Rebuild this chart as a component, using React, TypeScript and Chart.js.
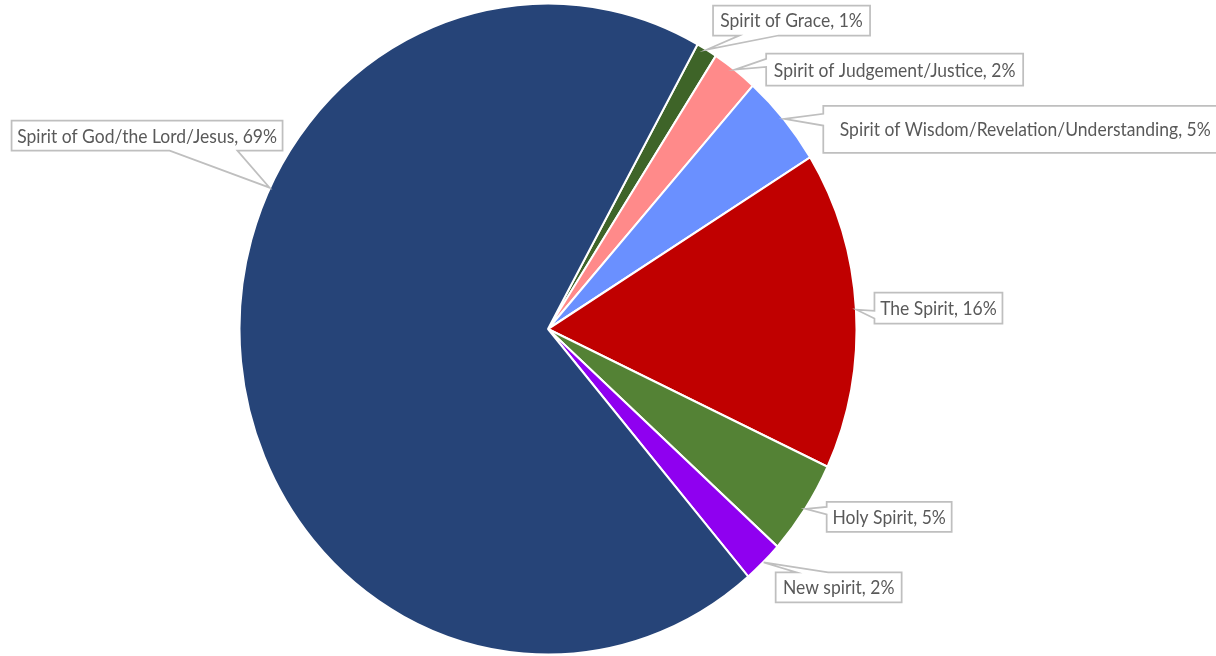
import React, { useEffect, useRef } from "react";
import { Chart, registerables } from "chart.js";

Chart.register(...registerables);

const categories = [
  "Spirit of Grace",
  "Spirit of Judgement/Justice",
  "Spirit of Wisdom/Revelation/Understanding",
  "The Spirit",
  "Holy Spirit",
  "New spirit",
  "Spirit of God/the Lord/Jesus",
];
const shares = [1.1, 2.4, 4.6, 15.8, 4.7, 2.1, 69.3];
const sliceColors = ["#3E6428", "#FF8A8A", "#6A90FF", "#C00000", "#548235", "#8F00F0", "#264478"];

// callout layout: box offset from the tip (dx, dy), box size, optional tip angle (deg clockwise from top)
const calloutLayout = [
  { dx: 6, dy: -44, w: 157, h: 30 },
  { dx: 31, dy: -16, w: 257, h: 32 },
  { dx: 39, dy: -13, w: 404, h: 47 },
  { dx: 18, dy: -17, w: 128, h: 31 },
  { dx: 21, dy: -7, w: 125, h: 30 },
  { dx: 12, dy: 10, w: 126, h: 30 },
  { dx: -258, dy: -67, w: 271, h: 30, angle: 295.7 },
];

const SCALE_Y = 1.055;

const ellipsePlugin = {
  id: "ellipseStretch",
  beforeDatasetsDraw(chart: any) {
    const arc = chart.getDatasetMeta(0).data[0];
    if (!arc) return;
    const ctx = chart.ctx;
    ctx.save();
    ctx.translate(arc.x, arc.y);
    ctx.scale(1, SCALE_Y);
    ctx.translate(-arc.x, -arc.y);
  },
  afterDatasetsDraw(chart: any) {
    chart.ctx.restore();
  },
};

const calloutPlugin = {
  id: "callouts",
  afterDraw(chart: any) {
    const meta = chart.getDatasetMeta(0);
    const ctx: CanvasRenderingContext2D = chart.ctx;
    const data = chart.data.datasets[0].data as number[];
    const total = data.reduce((a, b) => a + b, 0);
    meta.data.forEach((arc: any, i: number) => {
      const p = arc.getProps(["x", "y", "startAngle", "endAngle", "outerRadius"], true);
      const L = calloutLayout[i];
      const a =
        L.angle !== undefined ? ((L.angle - 90) * Math.PI) / 180 : (p.startAngle + p.endAngle) / 2;
      const r = p.outerRadius + 0.5;
      const tx = p.x + r * Math.cos(a);
      const ty = p.y + r * SCALE_Y * Math.sin(a);
      const bx = tx + L.dx;
      const by = ty + L.dy;
      const w = L.w;
      const h = L.h;
      const cx = bx + w / 2;
      const cy = by + h / 2;
      const ndx = (tx - cx) / w;
      const ndy = (ty - cy) / h;
      ctx.save();
      ctx.beginPath();
      ctx.moveTo(bx, by);
      if (Math.abs(ndy) >= Math.abs(ndx) && ndy < 0) {
        const f1 = ndx > 0 ? 7 / 12 : 2 / 12;
        const f2 = ndx > 0 ? 10 / 12 : 5 / 12;
        ctx.lineTo(bx + w * f1, by);
        ctx.lineTo(tx, ty);
        ctx.lineTo(bx + w * f2, by);
      }
      ctx.lineTo(bx + w, by);
      if (Math.abs(ndx) > Math.abs(ndy) && ndx > 0) {
        const f1 = ndy > 0 ? 7 / 12 : 2 / 12;
        const f2 = ndy > 0 ? 10 / 12 : 5 / 12;
        ctx.lineTo(bx + w, by + h * f1);
        ctx.lineTo(tx, ty);
        ctx.lineTo(bx + w, by + h * f2);
      }
      ctx.lineTo(bx + w, by + h);
      if (Math.abs(ndy) >= Math.abs(ndx) && ndy > 0) {
        const f1 = ndx > 0 ? 10 / 12 : 5 / 12;
        const f2 = ndx > 0 ? 7 / 12 : 2 / 12;
        ctx.lineTo(bx + w * f1, by + h);
        ctx.lineTo(tx, ty);
        ctx.lineTo(bx + w * f2, by + h);
      }
      ctx.lineTo(bx, by + h);
      if (Math.abs(ndx) > Math.abs(ndy) && ndx < 0) {
        const f1 = ndy > 0 ? 10 / 12 : 5 / 12;
        const f2 = ndy > 0 ? 7 / 12 : 2 / 12;
        ctx.lineTo(bx, by + h * f1);
        ctx.lineTo(tx, ty);
        ctx.lineTo(bx, by + h * f2);
      }
      ctx.closePath();
      ctx.fillStyle = "#FFFFFF";
      ctx.fill();
      ctx.lineWidth = 1.75;
      ctx.strokeStyle = "#BFBFBF";
      ctx.lineJoin = "miter";
      ctx.stroke();

      const pct = Math.round((data[i] / total) * 100);
      const text = `${chart.data.labels[i]}, ${pct}%`;
      ctx.fillStyle = "#595959";
      ctx.font = "17.5px Lato, 'Open Sans', sans-serif";
      ctx.textAlign = "center";
      ctx.textBaseline = "middle";
      ctx.translate(cx, cy + 1);
      ctx.scale(1, SCALE_Y);
      ctx.fillText(text, 0, 0);
      ctx.restore();
    });
  },
};

export default function App() {
  const canvasRef = useRef<HTMLCanvasElement | null>(null);

  useEffect(() => {
    if (!canvasRef.current) return;
    const chart = new Chart(canvasRef.current, {
      type: "pie",
      data: {
        labels: categories,
        datasets: [
          {
            data: shares,
            backgroundColor: sliceColors,
            borderColor: "#FFFFFF",
            borderWidth: 2,
          },
        ],
      },
      options: {
        animation: false,
        responsive: false,
        maintainAspectRatio: false,
        rotation: 29,
        radius: 308.5,
        layout: { padding: { left: 200, right: 320, top: 2, bottom: 0 } },
        plugins: {
          legend: { display: false },
          tooltip: { enabled: false },
        },
        events: [],
      },
      plugins: [ellipsePlugin, calloutPlugin],
    });
    return () => chart.destroy();
  }, []);

  return (
    <div style={{ position: "absolute", left: 0, top: 0, width: 1216, height: 656, background: "#FFFFFF" }}>
      <canvas ref={canvasRef} width={1216} height={656} style={{ width: 1216, height: 656 }} />
    </div>
  );
}
